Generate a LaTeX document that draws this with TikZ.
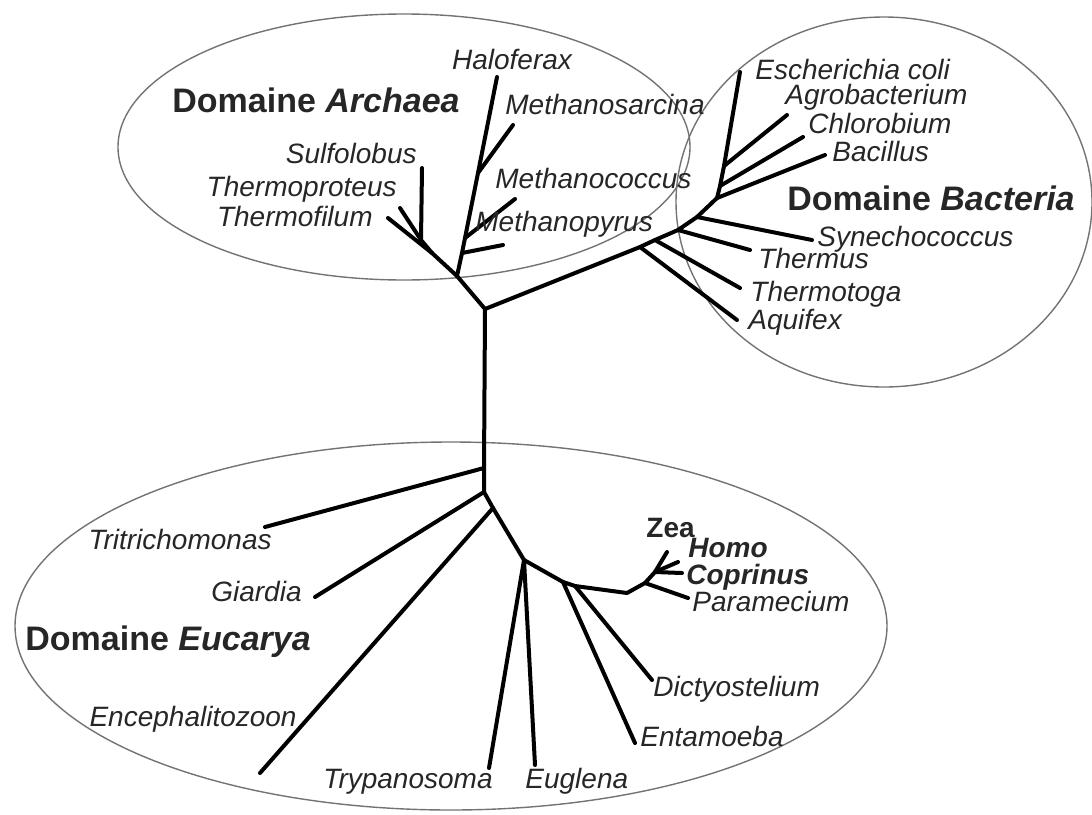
\documentclass[tikz,border=0pt]{standalone}
\usepackage{fontspec}
\setmainfont{Liberation Sans}
\usepackage{tikz}

\tikzset{
    taxon/.style={font=\fontsize{14}{16}\selectfont\itshape, text=black!85, inner sep=0pt, text height=1.5ex, text depth=.25ex},
    tight/.style={font=\fontsize{14}{16}\selectfont\bfseries\itshape, text=black!85, inner sep=0pt, anchor=base west},
    domainlabel/.style={font=\fontsize{17}{20}\selectfont\bfseries, text=black!85, inner sep=0pt},
    branch/.style={line width=2pt, line cap=round, line join=round},
    boundary/.style={draw=black!55, line width=0.7pt}
}

\begin{document}
\begin{tikzpicture}[x=0.5pt, y=-0.5pt]
    \useasboundingbox (0,0) rectangle (1092,814);

    % domain outlines
    \draw[boundary] (404,147) ellipse [x radius=143pt, y radius=66.5pt];
    \draw[boundary] (884,202) ellipse [x radius=104pt, y radius=92.5pt];
    \draw[boundary] (451,626) ellipse [x radius=218pt, y radius=92pt];

    % inner nodes of the tree
    \coordinate (root) at (485,309);
    \coordinate (arc) at (457,276);
    \coordinate (cr1) at (432,253);
    \coordinate (cr2) at (421,240);
    \coordinate (eu1) at (462,253);
    \coordinate (eu2) at (465,238);
    \coordinate (eu3) at (478,173);
    \coordinate (b1) at (640,247);
    \coordinate (b2) at (655,240);
    \coordinate (b3) at (678,230);
    \coordinate (b4) at (697,217);
    \coordinate (b5) at (717,198);
    \coordinate (b5a) at (720,186);
    \coordinate (b6) at (724,166);
    \coordinate (e0) at (484,468);
    \coordinate (e1) at (484,492);
    \coordinate (e2) at (493,508);
    \coordinate (e3) at (524,560);
    \coordinate (e4) at (563,582);
    \coordinate (e5) at (575,586);
    \coordinate (e6) at (627,593);
    \coordinate (e7) at (645,583);
    \coordinate (e8) at (655,572);

    % leaves
    \coordinate (sulfo) at (422,168);
    \coordinate (tprot) at (400,208);
    \coordinate (tfil) at (388,218);
    \coordinate (halo) at (497,77);
    \coordinate (msarc) at (513,125);
    \coordinate (mcocc) at (515,199);
    \coordinate (mpyr) at (503,245);
    \coordinate (ecoli) at (740,72);
    \coordinate (agro) at (787,115);
    \coordinate (chloro) at (803,137);
    \coordinate (bacil) at (825,155);
    \coordinate (syne) at (812,240);
    \coordinate (therm) at (750,250);
    \coordinate (tmotoga) at (740,288);
    \coordinate (aquif) at (737,320);
    \coordinate (trit) at (265,527);
    \coordinate (giard) at (315,597);
    \coordinate (encep) at (260,773);
    \coordinate (trypa) at (489,768);
    \coordinate (eugl) at (535,765);
    \coordinate (dicty) at (652,680);
    \coordinate (entam) at (635,743);
    \coordinate (param) at (688,598);
    \coordinate (zea) at (667,552);
    \coordinate (homo) at (678,562);
    \coordinate (copri) at (682,573);

    % Archaea
    \draw[branch] (root) -- (arc) -- (cr1) -- (tfil);
    \draw[branch] (cr1) -- (cr2) -- (sulfo);
    \draw[branch] (cr2) -- (tprot);
    \draw[branch] (arc) -- (eu1) -- (eu2) -- (eu3) -- (halo);
    \draw[branch] (eu1) -- (mpyr);
    \draw[branch] (eu2) -- (mcocc);
    \draw[branch] (eu3) -- (msarc);

    % Bacteria
    \draw[branch] (root) -- (b1) -- (b2) -- (b3) -- (b4) -- (b5) -- (b5a) -- (b6) -- (ecoli);
    \draw[branch] (b1) -- (aquif);
    \draw[branch] (b2) -- (tmotoga);
    \draw[branch] (b3) -- (therm);
    \draw[branch] (b4) -- (syne);
    \draw[branch] (b5) -- (bacil);
    \draw[branch] (b5a) -- (chloro);
    \draw[branch] (b6) -- (agro);

    % Eucarya
    \draw[branch] (root) -- (e0) -- (e1) -- (e2) -- (e3) -- (e4) -- (e5) -- (e6) -- (e7) -- (e8) -- (zea);
    \draw[branch] (e0) -- (trit);
    \draw[branch] (e1) -- (giard);
    \draw[branch] (e2) -- (encep);
    \draw[branch] (e3) -- (trypa);
    \draw[branch] (e3) -- (eugl);
    \draw[branch] (e4) -- (entam);
    \draw[branch] (e5) -- (dicty);
    \draw[branch] (e7) -- (param);
    \draw[branch] (e8) -- (homo);
    \draw[branch] (e8) -- (copri);

    % labels
    \node[domainlabel, anchor=west] (darc) at (172,100) {Domaine \textit{Archaea}};
    \node[domainlabel, anchor=west] (dbac) at (787,198) {Domaine \textit{Bacteria}};
    \node[domainlabel, anchor=west] (deuc) at (25,642) {Domaine \textit{Eucarya}};

    \node[taxon] (lhalo) at (512,63) {Haloferax};
    \node[taxon, anchor=west] (lmsarc) at (505,108) {Methanosarcina};
    \node[taxon, anchor=west] (lmcocc) at (495,182) {Methanococcus};
    \node[taxon, anchor=west] (lmpyr) at (475,225) {Methanopyrus};
    \node[taxon, anchor=east] (lsulfo) at (417,157) {Sulfolobus};
    \node[taxon, anchor=east] (ltprot) at (397,190) {Thermoproteus};
    \node[taxon, anchor=east] (ltfil) at (373,220) {Thermofilum};

    \node[taxon, anchor=west] (lecoli) at (755,73) {Escherichia coli};
    \node[taxon, anchor=west] (lagro) at (785,98) {Agrobacterium};
    \node[taxon, anchor=west] (lchloro) at (808,127) {Chlorobium};
    \node[taxon, anchor=west] (lbacil) at (832,155) {Bacillus};
    \node[taxon, anchor=west] (lsyne) at (817,240) {Synechococcus};
    \node[taxon, anchor=west] (ltherm) at (758,262) {Thermus};
    \node[taxon, anchor=west] (ltmotoga) at (750,295) {Thermotoga};
    \node[taxon, anchor=west] (laquif) at (748,323) {Aquifex};

    \node[tight, font=\fontsize{14}{16}\selectfont\bfseries] (lzea) at (646,537) {Zea};
    \node[tight] (lhomo) at (688,557) {Homo};
    \node[tight] (lcopri) at (686,584) {Coprinus};
    \node[tight, font=\fontsize{14}{16}\selectfont\itshape] (lparam) at (692,611) {Paramecium};
    \node[taxon, anchor=west] (ldicty) at (653,690) {Dictyostelium};
    \node[taxon, anchor=west] (lentam) at (640,740) {Entamoeba};
    \node[taxon, anchor=west] (leugl) at (525,782) {Euglena};
    \node[taxon, anchor=east] (ltrypa) at (493,782) {Trypanosoma};
    \node[taxon, anchor=east] (lencep) at (297,720) {Encephalitozoon};
    \node[taxon, anchor=east] (lgiard) at (302,595) {Giardia};
    \node[taxon, anchor=east] (ltrit) at (272,543) {Tritrichomonas};
\end{tikzpicture}
\end{document}
